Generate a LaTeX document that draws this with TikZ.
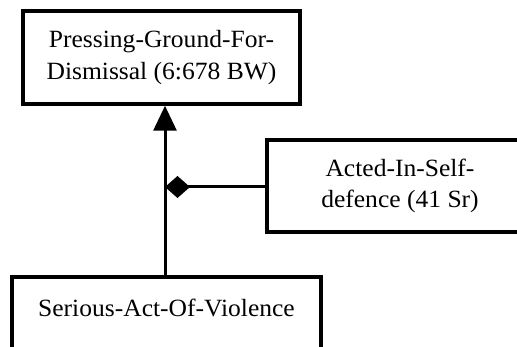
\documentclass[tikz,border=0pt]{standalone}
\usepackage{fontspec}
\newfontfamily\dfont[FakeStretch=1.03]{Liberation Serif}
\usetikzlibrary{arrows.meta}
\begin{document}
\begin{tikzpicture}[x=1pt,y=-1pt,
  box/.style={draw, line width=3.5pt, rectangle, align=center, inner sep=0pt,
    font=\dfont\fontsize{24.8}{31.5}\selectfont},
  conn/.style={line width=3pt}]
\useasboundingbox (0,0) rectangle (517,347);
\clip (0,0) rectangle (517,347);
\node[box, minimum width=277pt, minimum height=93pt] (pgd) at (161.5,57.5)
  {Pressing-Ground-For-\\Dismissal (6:678 BW)};
\node[box, minimum width=266pt, minimum height=92pt] (asd) at (400,186)
  {Acted-In-Self-\\defence (41 Sr)};
\node[box, minimum width=309pt, minimum height=93pt] (sav) at (166.5,323.5)
  {Serious-Act-Of-Violence\\\mbox{}};
\coordinate (line) at (165,0);
\coordinate (junc) at (165,187);
\draw[conn, -{Triangle[length=25pt,width=23pt]}] (sav.north -| line) -- (pgd.south -| line);
\draw[conn, {Diamond[length=25pt,width=22pt]}-] (junc) -- (asd.west |- junc);
\end{tikzpicture}
\end{document}
